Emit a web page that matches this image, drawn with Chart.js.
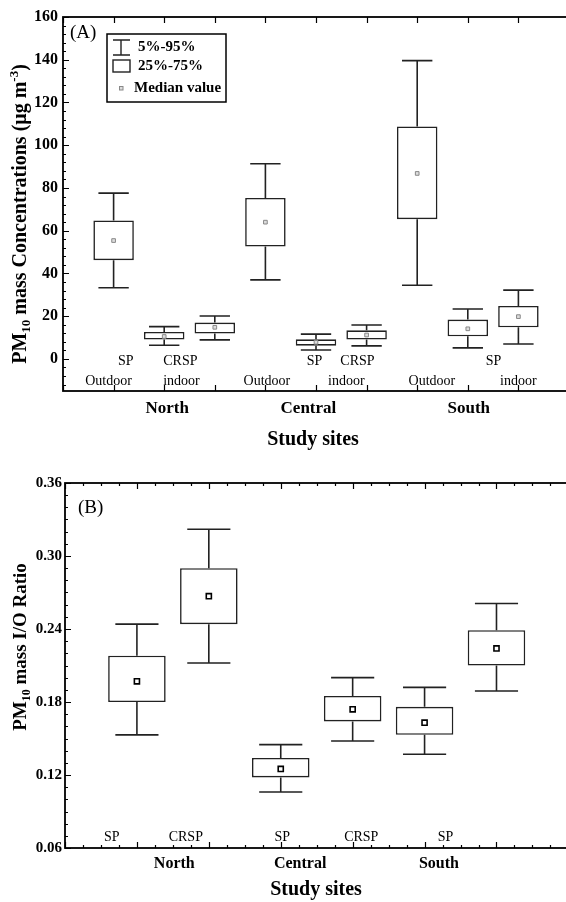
<!DOCTYPE html>
<html>
<head>
<meta charset="utf-8">
<script src="https://cdn.jsdelivr.net/npm/chart.js@4.4.1/dist/chart.umd.min.js"></script>
<style>
  html, body { margin: 0; padding: 0; background: #fff; overflow: hidden; }
  .panel { position: absolute; left: 0; width: 574px; height: 451px; }
</style>
</head>
<body>
<div class="panel" style="top:0"><canvas id="chart-a" width="574" height="451"></canvas></div>
<div class="panel" style="top:451px"><canvas id="chart-b" width="574" height="451"></canvas></div>
<script>
const SERIF = '"Liberation Serif", "Times New Roman", serif';

// (A) PM10 mass concentrations (ug m-3): per site -> Outdoor, indoor SP, indoor CRSP
const concP5  = [33.3, 6.4, 8.9, 37.0, 4.2, 6.1, 34.5, 5.2, 7.0];
const concQ1  = [46.2, 9.1, 11.9, 52.6, 6.2, 9.1, 65.4, 10.6, 14.8];
const concMed = [55.4, 10.5, 14.8, 64.0, 7.8, 11.2, 86.8, 14.1, 19.8];
const concQ3  = [64.8, 12.6, 17.0, 75.3, 9.2, 13.4, 108.8, 18.4, 24.8];
const concP95 = [77.6, 15.1, 20.1, 91.3, 11.6, 15.9, 139.6, 23.4, 32.2];
const concTicks = [0, 20, 40, 60, 80, 100, 120, 140, 160];
const concRow1 = ['SP', 'CRSP', 'SP', 'CRSP', 'SP'];
const concRow2 = ['Outdoor', 'indoor', 'Outdoor', 'indoor', 'Outdoor', 'indoor'];

// (B) PM10 mass I/O ratio: per site -> SP, CRSP
const ratioP5  = [0.153, 0.212, 0.106, 0.148, 0.137, 0.189];
const ratioQ1  = [0.180, 0.244, 0.118, 0.164, 0.153, 0.210];
const ratioMed = [0.197, 0.267, 0.125, 0.174, 0.163, 0.224];
const ratioQ3  = [0.218, 0.290, 0.134, 0.185, 0.176, 0.239];
const ratioP95 = [0.244, 0.322, 0.145, 0.200, 0.192, 0.261];
const ratioTicks = [0.06, 0.12, 0.18, 0.24, 0.30, 0.36];
const ratioRow1 = ['SP', 'CRSP', 'SP', 'CRSP', 'SP'];

const sites = ['North', 'Central', 'South'];

function boxDatasets(p5, q1, med, q3, p95, medStyle) {
    const xs = med.map((_, i) => i + 1);
    const cap = 0.3;
    const whisk = [];
    xs.forEach((x, i) => {
        whisk.push({x, y: q3[i]}, {x, y: p95[i]}, {x, y: null});
        whisk.push({x: x - cap, y: p95[i]}, {x: x + cap, y: p95[i]}, {x, y: null});
        whisk.push({x, y: q1[i]}, {x, y: p5[i]}, {x, y: null});
        whisk.push({x: x - cap, y: p5[i]}, {x: x + cap, y: p5[i]}, {x, y: null});
    });
    return [
        Object.assign({
            type: 'scatter',
            data: xs.map((x, i) => ({x, y: med[i]})),
            pointStyle: 'rect',
            order: 0
        }, medStyle),
        {
            type: 'scatter',
            data: whisk,
            showLine: true,
            spanGaps: false,
            borderColor: '#222',
            borderWidth: 1.6,
            pointRadius: 0,
            order: 1
        },
        {
            type: 'bar',
            data: xs.map((x, i) => ({x, y: [q1[i], q3[i]]})),
            backgroundColor: '#fff',
            borderColor: '#222',
            borderWidth: 1.6,
            borderSkipped: false,
            categoryPercentage: 0.8,
            barPercentage: 1,
            order: 2
        }
    ];
}

// frame with inward ticks (right side falls outside the page)
const framePlugin = {
    id: 'frame',
    afterDatasetsDraw(chart, args, opts) {
        const {ctx, chartArea: a, scales: {x, y}} = chart;
        ctx.save();
        ctx.strokeStyle = '#000';
        ctx.lineWidth = 1.2;
        ctx.beginPath();
        const steps = (min, max, step) => {
            const out = [];
            for (let k = Math.ceil(min / step - 1e-6); k <= Math.floor(max / step + 1e-6); k++) out.push(k * step);
            return out;
        };
        const isMajor = (v, step) => Math.abs(v / step - Math.round(v / step)) < 1e-6;
        steps(y.min, y.max, opts.yMinor).forEach(v => {
            const py = Math.round(y.getPixelForValue(v)) + 0.5;
            const len = isMajor(v, opts.yMajor) ? 6 : 3;
            ctx.moveTo(a.left, py); ctx.lineTo(a.left + len, py);
        });
        steps(x.min, x.max, opts.xMinor).forEach(v => {
            const px = Math.round(x.getPixelForValue(v)) + 0.5;
            const len = isMajor(v, 1) ? 6 : 3;
            ctx.moveTo(px, a.bottom); ctx.lineTo(px, a.bottom - len);
            ctx.moveTo(px, a.top); ctx.lineTo(px, a.top + len);
        });
        ctx.stroke();
        ctx.lineWidth = 1.8;
        ctx.strokeRect(a.left, a.top, a.right - a.left, a.bottom - a.top);
        ctx.restore();
    }
};

function drawRich(ctx, parts, size, cx, cy) {
    ctx.save();
    ctx.translate(cx, cy);
    ctx.rotate(-Math.PI / 2);
    ctx.textBaseline = 'alphabetic';
    ctx.fillStyle = '#000';
    const fontFor = p => 'bold ' + (p.sub || p.sup ? Math.round(size * 0.65) : size) + 'px ' + SERIF;
    let total = 0;
    parts.forEach(p => { ctx.font = fontFor(p); total += ctx.measureText(p.t).width; });
    let pos = -total / 2;
    parts.forEach(p => {
        ctx.font = fontFor(p);
        const dy = p.sub ? size * 0.22 : p.sup ? -size * 0.38 : 0;
        ctx.fillText(p.t, pos, dy);
        pos += ctx.measureText(p.t).width;
    });
    ctx.restore();
}

// texts, panel tag, legend, axis titles
const annotPlugin = {
    id: 'annot',
    afterDraw(chart, args, opts) {
        const {ctx, chartArea: a, scales: {x}} = chart;
        ctx.save();
        ctx.fillStyle = '#000';
        ctx.textBaseline = 'middle';
        opts.texts.forEach(t => {
            ctx.font = t.font;
            ctx.textAlign = 'center';
            ctx.fillText(t.text, t.px !== undefined ? t.px : x.getPixelForValue(t.x), a.bottom + t.dy);
        });
        ctx.font = '19px ' + SERIF;
        ctx.textAlign = 'left';
        ctx.fillText(opts.tag, a.left + opts.tagDx, a.top + opts.tagDy);
        if (opts.legend) {
            ctx.strokeStyle = '#000';
            ctx.lineWidth = 1.5;
            ctx.strokeRect(107, 34, 119, 68);
            ctx.strokeStyle = '#222';
            ctx.lineWidth = 1.4;
            ctx.beginPath();
            ctx.moveTo(121, 40); ctx.lineTo(121, 55);
            ctx.moveTo(113, 40); ctx.lineTo(130, 40);
            ctx.moveTo(113, 55); ctx.lineTo(130, 55);
            ctx.stroke();
            ctx.strokeRect(113, 60, 17, 12);
            ctx.fillStyle = '#ddd';
            ctx.strokeStyle = '#888';
            ctx.lineWidth = 1;
            ctx.fillRect(119.5, 86.5, 3.5, 3.5);
            ctx.strokeRect(119.5, 86.5, 3.5, 3.5);
            ctx.fillStyle = '#000';
            ctx.font = 'bold 15px ' + SERIF;
            ctx.fillText('5%-95%', 138, 47);
            ctx.fillText('25%-75%', 138, 66);
            ctx.fillText('Median value', 134, 88);
        }
        ctx.restore();
        drawRich(ctx, opts.yTitle, opts.yTitleSize, 26, opts.yTitleY);
    }
};

const rowFont = '14px ' + SERIF;
const siteFont = sz => 'bold ' + sz + 'px ' + SERIF;

function baseOptions(opts) {
    return {
        responsive: false,
        animation: false,
        devicePixelRatio: 1,
        events: [],
        layout: { padding: { top: opts.top, right: opts.right, left: 0, bottom: 0 } },
        plugins: {
            legend: { display: false },
            tooltip: { enabled: false },
            frame: opts.frame,
            annot: opts.annot
        },
        scales: {
            x: {
                type: 'linear', min: opts.xMin, max: opts.xMax, offset: false,
                grid: { display: false, drawTicks: false, tickLength: 0 }, border: { display: false },
                ticks: { display: false },
                afterFit: s => { s.height = opts.xHeight; }
            },
            y: {
                type: 'linear', min: opts.yMin, max: opts.yMax,
                grid: { display: false, drawTicks: false, tickLength: 0 }, border: { display: false },
                ticks: {
                    color: '#000', padding: opts.tickPad,
                    font: { family: SERIF, size: opts.tickSize, weight: 'bold' },
                    callback: opts.tickFmt
                },
                afterBuildTicks: s => { s.ticks = opts.ticks.map(v => ({value: v})); },
                afterFit: s => { s.width = opts.yWidth; }
            }
        }
    };
}

// Panel A
const textsA = [];
[1.24, 2.32, 4.97, 5.82, 8.51].forEach((x, i) => textsA.push({text: concRow1[i], x, dy: -30, font: rowFont}));
[0.9, 2.34, 4.03, 5.6, 7.29, 9.0].forEach((x, i) => textsA.push({text: concRow2[i], x, dy: -10, font: rowFont}));
[2.06, 4.85, 8.02].forEach((x, i) => textsA.push({text: sites[i], x, dy: 18, font: siteFont(17)}));
textsA.push({text: 'Study sites', px: 313, dy: 49, font: siteFont(20)});

new Chart(document.getElementById('chart-a'), {
    type: 'bar',
    data: { datasets: boxDatasets(concP5, concQ1, concMed, concQ3, concP95,
        { pointRadius: 2.6, borderWidth: 1, borderColor: '#888', backgroundColor: '#ddd' }) },
    options: baseOptions({
        top: 17, right: 2, xMin: 0, xMax: 10, xHeight: 60,
        yMin: -15, yMax: 160, ticks: concTicks, tickSize: 16, tickPad: 5, yWidth: 63,
        tickFmt: v => String(v),
        frame: { yMinor: 4, yMajor: 20, xMinor: 1 },
        annot: {
            texts: textsA, tag: '(A)', tagDx: 7, tagDy: 16, legend: true,
            yTitle: [{t: 'PM'}, {t: '10', sub: true}, {t: ' mass Concentrations (\u03bcg m'}, {t: '-3', sup: true}, {t: ')'}],
            yTitleSize: 20, yTitleY: 214
        }
    }),
    plugins: [framePlugin, annotPlugin]
});

// Panel B
const textsB = [];
[0.65, 1.68, 3.02, 4.12, 5.29].forEach((x, i) => textsB.push({text: ratioRow1[i], x, dy: -11, font: rowFont}));
[1.52, 3.27, 5.2].forEach((x, i) => textsB.push({text: sites[i], x, dy: 16, font: siteFont(16)}));
textsB.push({text: 'Study sites', px: 316, dy: 42, font: siteFont(20)});

new Chart(document.getElementById('chart-b'), {
    type: 'bar',
    data: { datasets: boxDatasets(ratioP5, ratioQ1, ratioMed, ratioQ3, ratioP95,
        { pointRadius: 3.6, borderWidth: 1.6, borderColor: '#000', backgroundColor: '#fff' }) },
    options: baseOptions({
        top: 32, right: 1, xMin: 0, xMax: 7, xHeight: 54,
        yMin: 0.06, yMax: 0.36, ticks: ratioTicks, tickSize: 15, tickPad: 3, yWidth: 65,
        tickFmt: v => v.toFixed(2),
        frame: { yMinor: 0.01, yMajor: 0.06, xMinor: 0.25 },
        annot: {
            texts: textsB, tag: '(B)', tagDx: 13, tagDy: 25, legend: false,
            yTitle: [{t: 'PM'}, {t: '10', sub: true}, {t: ' mass I/O Ratio'}],
            yTitleSize: 19, yTitleY: 196
        }
    }),
    plugins: [framePlugin, annotPlugin]
});
</script>
</body>
</html>
